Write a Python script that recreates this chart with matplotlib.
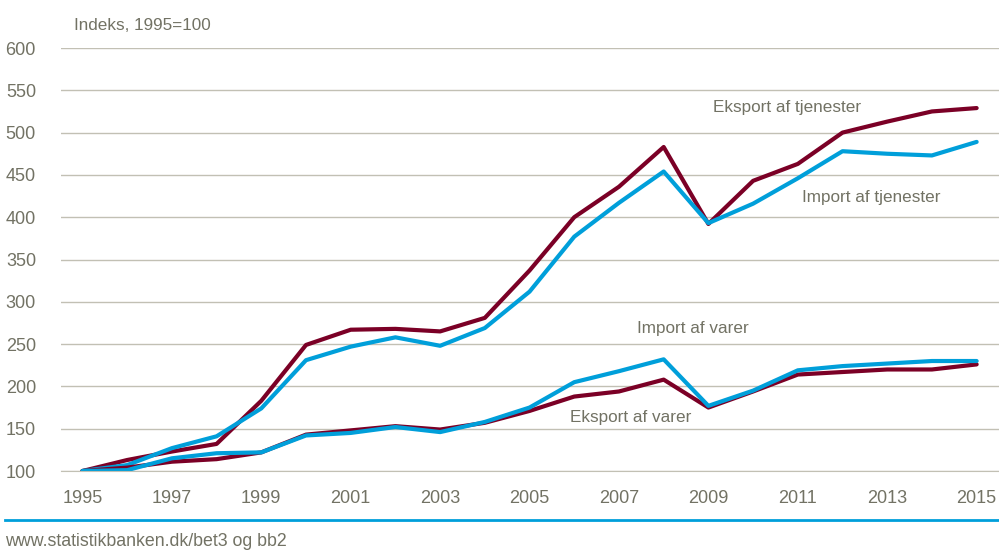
import matplotlib
matplotlib.use("Agg")
import matplotlib.pyplot as plt

years = list(range(1995, 2016))
eksport_tjenester = [100, 113, 123, 132, 183, 249, 267, 268, 265, 281, 337, 400, 436, 483, 392, 443, 463, 500, 513, 525, 529]
import_tjenester = [100, 107, 127, 141, 174, 231, 247, 258, 248, 269, 312, 377, 417, 454, 393, 416, 446, 478, 475, 473, 489]
eksport_varer = [100, 104, 111, 114, 122, 143, 148, 153, 149, 157, 171, 188, 194, 208, 175, 194, 214, 217, 220, 220, 226]
import_varer = [100, 101, 115, 121, 122, 142, 145, 152, 146, 158, 175, 205, 218, 232, 177, 195, 219, 224, 227, 230, 230]
xticks = list(range(1995, 2016, 2))
yticks = list(range(100, 601, 50))

red = "#7B0026"
blue = "#009FDA"
txt = "#727264"
grid = "#C2C0B4"

plt.rcParams["font.family"] = ["Liberation Sans", "DejaVu Sans"]

fig = plt.figure(figsize=(9.99, 5.5), dpi=100)
ax = fig.add_axes([61 / 999, 79 / 550, 938 / 999, 423 / 550])

ax.plot(years, eksport_tjenester, color=red, lw=3, solid_capstyle="round")
ax.plot(years, import_tjenester, color=blue, lw=3, solid_capstyle="round")
ax.plot(years, eksport_varer, color=red, lw=3, solid_capstyle="round")
ax.plot(years, import_varer, color=blue, lw=3, solid_capstyle="round")

ax.set_xlim(1994.52, 2015.5)
ax.set_ylim(100, 600)
ax.set_xticks(xticks)
ax.set_yticks(yticks)
ax.grid(axis="y", color=grid, lw=1)
ax.set_axisbelow(True)
for s in ["top", "right", "left"]:
    ax.spines[s].set_visible(False)
ax.spines["bottom"].set_color(grid)
ax.tick_params(length=0, labelsize=13, labelcolor=txt)
ax.tick_params(axis="y", pad=18)
ax.tick_params(axis="x", pad=14)

fs = 12.3
ax.text(2009.1, 530, "Eksport af tjenester", color=txt, fontsize=fs, va="center")
ax.text(2011.1, 423, "Import af tjenester", color=txt, fontsize=fs, va="center")
ax.text(2007.4, 268, "Import af varer", color=txt, fontsize=fs, va="center")
ax.text(2005.9, 163, "Eksport af varer", color=txt, fontsize=fs, va="center")

fig.text(74 / 999, 1 - 25 / 550, "Indeks, 1995=100", color=txt, fontsize=fs, va="center")
fig.add_artist(plt.Line2D([5 / 999, 1], [1 - 520 / 550] * 2, color=blue, lw=2))
fig.text(5 / 999, 1 - 542 / 550, "www.statistikbanken.dk/bet3 og bb2", color=txt, fontsize=12.8, va="center")

fig.savefig("out.png", dpi=100)
